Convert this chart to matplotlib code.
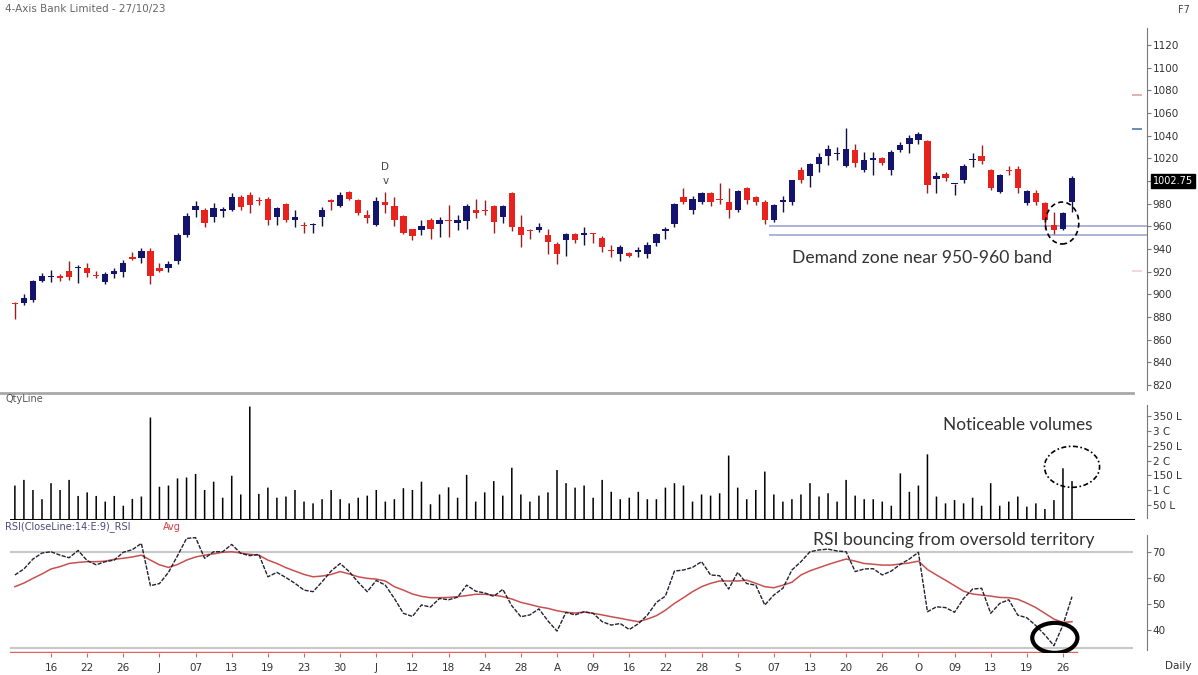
import matplotlib
matplotlib.use("Agg")
import matplotlib.pyplot as plt
from matplotlib.patches import Ellipse
from matplotlib.lines import Line2D

# daily OHLC, 10 May 2023 .. 27 Oct 2023 (118 sessions)
opens = [892.5, 892, 895, 912, 915, 916, 921, 923, 923, 917, 911, 918, 920, 933, 932, 938.5, 923, 923, 929, 952,
         974.5, 974.5, 968, 973.5, 974.5, 986, 988, 983, 984.5, 968, 979.5, 965.5, 961, 961, 968, 983.5, 978, 990, 983, 970,
         961, 981.5, 977.5, 969, 957.5, 956.5, 965.5, 962, 965.5, 962.5, 965, 974, 974, 978, 968, 989.5, 959.5, 956.5, 957, 952.5,
         944.5, 948, 953, 952.5, 953.5, 949.5, 939, 936, 936.5, 937.5, 936, 945, 956, 962, 986, 974.5, 981.5, 989.5, 984, 981.5,
         974.5, 993.5, 985.5, 981.5, 965.5, 981.5, 981.5, 1009.5, 1004, 1015, 1022, 1023.5, 1013, 1027.5, 1009.5, 1018.5, 1020, 1009.5, 1027.5, 1032.5,
         1036.5, 1035.5, 1001.5, 1006, 997, 1001, 1018.5, 1022, 1009.5, 990.5, 1009.5, 1011, 980.5, 989.5, 981, 961, 957.5, 981.5]
highs = [893, 900, 913, 918.5, 921.5, 918, 929.5, 925.5, 928, 921, 920, 923, 930, 937.5, 940.5, 940.5, 928, 929.5, 954, 971.5,
         982, 976, 981, 977, 989, 988, 990, 985.5, 985.5, 977, 981, 974, 964, 962.5, 977, 984, 990.5, 991.5, 984.5, 974,
         986, 990.5, 985.5, 970, 958, 965.5, 967.5, 968.5, 979, 970, 980, 984.5, 983, 979, 979, 990.5, 970, 958, 962.5, 958,
         946.5, 954, 954, 959, 954, 951.5, 943.5, 943.5, 937.5, 942, 946.5, 954, 959, 981, 993.5, 986.5, 990.5, 990.5, 998, 993.5,
         992, 995, 986.5, 983, 979.5, 986.5, 1001, 1012.5, 1016, 1025, 1031.5, 1030, 1046.5, 1033, 1026, 1026, 1021.5, 1027.5, 1034.5, 1040.5,
         1043.5, 1036, 1008, 1007.5, 997.5, 1015, 1024.5, 1031.5, 1011, 1006.5, 1013, 1013, 992, 992, 981.5, 973, 973, 1004]
lows = [878, 891, 893, 911, 911, 912, 913, 910, 915, 914, 909, 914, 915, 930, 928, 909, 920, 920, 927, 951,
        968.5, 959.5, 964, 968.5, 973.5, 974.5, 971.5, 979, 961, 961, 964, 959, 954.5, 954, 960.5, 974, 977, 983, 970, 962.5,
        960, 972, 960.5, 953, 947.5, 952.5, 948.5, 950.5, 951, 956.5, 958, 967, 970, 954, 962.5, 956, 942, 948.5, 955, 936,
        926.5, 934, 945, 943.5, 945, 937.5, 933, 929, 932.5, 933, 932, 943, 948.5, 959, 980, 971, 980, 978, 980, 967,
        973, 980, 979, 962, 964, 973, 979, 998, 995, 1008, 1014, 1018.5, 1012.5, 1012.5, 1008, 1005, 1014, 1005, 1026, 1025,
        1033, 989, 989, 1000, 988, 998.5, 1012.5, 1015, 992, 989, 1005.5, 989.5, 979, 979, 958, 953, 956.5, 973]
closes = [891.5, 897, 912, 916, 916, 914, 915, 924.5, 918.5, 916, 918, 921, 928, 931, 938.5, 916, 921, 926.5, 952, 969,
          977.5, 963, 976, 975, 986, 977, 979, 982, 966, 976, 966, 968, 960, 962, 974.5, 981.5, 987.5, 984, 972, 967,
          982.5, 979, 965.5, 954, 951.5, 960.5, 958, 965.5, 965, 965.5, 977.5, 971.5, 973.5, 964, 978, 959.5, 952.5, 956, 959.5, 946.5,
          936, 953, 948, 954, 953, 941.5, 938.5, 941.5, 934, 939, 943.5, 953, 958, 979.5, 981.5, 984.5, 989.5, 981.5, 983.5, 974.5,
          991.5, 983, 981.5, 965.5, 979, 983, 1000.5, 1001, 1015, 1021.5, 1028, 1025, 1028, 1015.5, 1018.5, 1020, 1015.5, 1026, 1031.5, 1037.5,
          1041.5, 996.5, 1004, 1002.5, 997.5, 1013, 1019.5, 1018, 993.5, 1005.5, 1009, 993.5, 991.5, 981.5, 966, 956.5, 972, 1002.75]

# volume in lakh shares
volumes = [116, 135, 101, 70, 124, 101, 135, 81, 93, 81, 62, 81, 48, 71, 79, 345, 112, 116, 140, 143,
           155, 101, 129, 75, 149, 86, 382, 88, 109, 75, 79, 101, 62, 56, 70, 101, 70, 56, 75, 82,
           101, 62, 70, 107, 101, 129, 53, 86, 110, 75, 152, 62, 93, 131, 82, 176, 86, 62, 82, 93,
           168, 124, 109, 116, 75, 135, 95, 70, 75, 95, 70, 70, 109, 124, 116, 62, 86, 82, 90, 217,
           109, 70, 101, 163, 86, 62, 70, 86, 124, 79, 90, 62, 135, 82, 70, 70, 62, 48, 157, 95,
           116, 221, 79, 56, 67, 56, 75, 48, 124, 48, 62, 79, 45, 56, 37, 67, 174, 131]

rsi = [61.1, 63.4, 67.2, 69.5, 70, 68.7, 67.7, 70.5, 66.6, 65, 66.2, 66.8, 69.8, 70.8, 73.2, 57, 57.8, 62.1, 68.5, 75.1,
       75.4, 67.5, 70, 70, 72.8, 69.4, 68.5, 69, 60.4, 62.1, 60.1, 57.9, 55.3, 54.7, 58.5, 62.6, 65.5, 62.4, 58.3, 54.7,
       59, 57.2, 52.1, 46.4, 45.2, 49.6, 48.8, 52.1, 51.6, 52.6, 57.2, 54.9, 54.2, 52.9, 55.6, 49.3, 45.1, 45.8, 48.1, 43.5,
       39.6, 46.8, 45.8, 47, 46.4, 43.2, 41.9, 42.5, 40.2, 42.4, 45.7, 50.6, 53, 62.6, 63, 64, 66.2, 61.1, 60.8, 55.7,
       62.1, 57.8, 57.2, 49.6, 53.4, 56, 63, 66.2, 70, 70.7, 71, 70.3, 70, 62.4, 63.4, 63.5, 61.1, 62.6, 65.2, 67.2,
       69.8, 47, 48.9, 48.6, 46.8, 52.1, 55.7, 56, 46.4, 50.2, 51.6, 45.7, 44.7, 41.7, 38.1, 34, 41.9, 52.8]
rsi_avg = [56.6, 58, 59.8, 61.5, 63.4, 64.3, 65.5, 65.9, 66.2, 66.2, 66.4, 67.1, 67.5, 68, 68.7, 66.8, 65, 64, 65.1, 66.8,
           68, 68.7, 69.2, 69.8, 70, 69.5, 69, 68.7, 66.8, 65.5, 63.9, 62.6, 61.3, 60.4, 60.7, 61.3, 62.4, 61.5, 60.4, 59.8,
           59.5, 58.8, 56.6, 55.3, 53.8, 52.9, 52.4, 52.4, 52.5, 52.8, 53.2, 53.7, 53.7, 53.4, 52.8, 51.9, 50.6, 49.8, 48.9, 48.3,
           47.4, 46.8, 46.5, 46.9, 46.4, 45.8, 45.1, 44.5, 43.8, 43.2, 44.2, 45.5, 47.6, 50.2, 52.4, 54.7, 56.6, 57.9, 58.8, 58.8,
           58.8, 59.1, 57.9, 56.6, 56.2, 57.2, 58.3, 61.1, 62.7, 63.9, 65.1, 66.2, 67.2, 66.4, 65.5, 65.2, 64.9, 64.9, 65.3, 65.7,
           66.4, 63.2, 61.1, 59.1, 57, 54.9, 53.8, 53.4, 53, 52.5, 52.4, 51.8, 50.3, 48.6, 46.4, 44.2, 42.9, 43.2]

tick_pos = list(range(4, 118, 4))
tick_labels = ['16', '22', '26', 'J', '07', '13', '19', '23', '30', 'J', '12', '18', '24', '28', 'A',
               '09', '16', '22', '28', 'S', '07', '13', '20', '26', 'O', '09', '13', '19', '26']

price_ticks = list(range(820, 1121, 20))
vol_ticks = [50, 100, 150, 200, 250, 300, 350]
vol_labels = ['50 L', '1 C', '150 L', '2 C', '250 L', '3 C', '350 L']

W, H = 1198, 675
UP = '#14146e'
DOWN = '#e8231e'
GRID = '#7a7a7a'

fig = plt.figure(figsize=(W / 100, H / 100), dpi=100)
fig.patch.set_facecolor('white')

L = 10 / W
AW = 1137 / W
xlim = (-0.54, 125.3)


def add_panel(top, bottom):
    ax = fig.add_axes([L, 1 - bottom / H, AW, (bottom - top) / H])
    ax.set_xlim(*xlim)
    for s in ['top', 'left', 'bottom']:
        ax.spines[s].set_visible(False)
    ax.spines['right'].set_color(GRID)
    ax.yaxis.tick_right()
    ax.tick_params(axis='y', length=3, pad=1, labelsize=7.5, colors='#333333')
    ax.tick_params(axis='y', color=GRID)
    ax.set_xticks([])
    return ax


def fx(px):
    return px / W


def fy(py):
    return 1 - py / H


# ---- price panel
ax = add_panel(28, 392)
ax.set_ylim(813.8, 1135)
ax.spines['right'].set_bounds(815.6, 1135)
ax.set_yticks(price_ticks)
# the last-price box sits where the 1000 label would be
ax.set_yticklabels(['' if p == 1000 else str(p) for p in price_ticks])

idx = list(range(len(opens)))
cols = [UP if c >= o else DOWN for o, c in zip(opens, closes)]
wcols = ['#10103a' if c >= o else '#9a2020' for o, c in zip(opens, closes)]
ax.vlines(idx, lows, highs, colors=wcols, lw=1.0, zorder=2)
bh = [max(abs(c - o), 0.9) for o, c in zip(opens, closes)]
bb = [min(o, c) for o, c in zip(opens, closes)]
ax.bar(idx, bh, bottom=bb, width=0.7, color=cols, zorder=3)

# demand zone
ax.hlines([960, 952], 83.5, 125.3, colors='#a9add6', lw=1.3, zorder=1)
ax.add_patch(Ellipse((115.9, 962.9), 3.7, 37, fill=False, ls=(0, (3, 2)), lw=1.2, ec='black', zorder=4))
ax.text(41, 1012, 'D', ha='center', va='center', fontsize=7.5, color='#444444')
ax.text(41, 1000, 'v', ha='center', va='center', fontsize=7.5, color='#444444')
ax.hlines([1076], 123.6, 124.8, colors='#e0a0a8', lw=1.2)
ax.hlines([1046], 123.6, 124.8, colors='#4a7ab0', lw=1.2)
ax.hlines([920.6], 123.6, 124.8, colors='#f0d0d8', lw=1.2)
fig.text(fx(792), fy(258), 'Demand zone near 950-960 band', fontsize=12.6, family='Lato',
         color='#333333', ha='left', va='center')
fig.text(fx(1153), fy(181), '1002.75', fontsize=7, color='white', ha='left', va='center',
         bbox=dict(facecolor='black', edgecolor='black', pad=1.2))

fig.add_artist(Line2D([0, fx(1133)], [fy(393), fy(393)], color='#a8a8a8', lw=2))

# ---- volume panel
av = add_panel(400, 520)
av.set_ylim(0, 404)
av.spines['right'].set_bounds(7, 387)
av.set_yticks(vol_ticks)
av.set_yticklabels(vol_labels)
av.vlines(idx, 0, volumes, colors='black', lw=1.1, snap=False)
av.axhline(0, xmin=0, xmax=(1133 - 10) / 1137, color='black', lw=2.2)
av.add_patch(Ellipse((117, 179), 6.1, 138, fill=False, ls=(0, (3, 1.5, 1, 1.5)), lw=1.2, ec='black'))
fig.text(fx(943), fy(425), 'Noticeable volumes', fontsize=12.4, family='Lato',
         color='#333333', ha='left', va='center')

# ---- RSI panel
ar = add_panel(528, 653)
ar.set_ylim(31.2, 79.1)
ar.spines['right'].set_bounds(32.3, 76.4)
ar.set_yticks([40, 50, 60, 70])
ar.hlines([70, 33.1], -0.54, 123.7, colors='#c8c8c8', lw=1.5, zorder=1)
ar.axhline(31.4, xmin=0, xmax=(1077 - 10) / 1137, color='#e06060', lw=1.0)
ar.plot(idx, rsi_avg, color='#c85050', lw=1.1, zorder=2)
ar.plot(idx, rsi, color='#222233', lw=1.0, ls=(0, (3, 1)), zorder=3)
ar.add_patch(Ellipse((115.1, 37.0), 5.0, 11.5, fill=False, lw=3, ec='black', zorder=4))
ar.set_xticks(tick_pos)
ar.set_xticklabels(tick_labels)
ar.tick_params(axis='x', length=3, pad=4, labelsize=7.5, colors='#333333')
ar.tick_params(axis='x', color='#e06060')
fig.text(fx(813), fy(540), 'RSI bouncing from oversold territory', fontsize=12.6, family='Lato',
         color='#333333', ha='left', va='center')

# labels and captions
fig.text(fx(5), fy(9), '4-Axis Bank Limited - 27/10/23', fontsize=7.5, color='#666666', va='center')
fig.text(fx(1178), fy(10), 'F7', fontsize=7, color='#444444', va='center')
fig.text(fx(5), fy(399), 'QtyLine', fontsize=7, color='#555555', va='center')
fig.text(fx(5), fy(527), 'RSI(CloseLine:14:E:9)_RSI', fontsize=7, color='#4a4a7a', va='center')
fig.text(fx(163), fy(527), 'Avg', fontsize=7, color='#d04040', va='center')
fig.text(fx(1165), fy(666), 'Daily', fontsize=7.5, color='#333333', va='center')

fig.savefig('out.png', dpi=100, facecolor='white')
